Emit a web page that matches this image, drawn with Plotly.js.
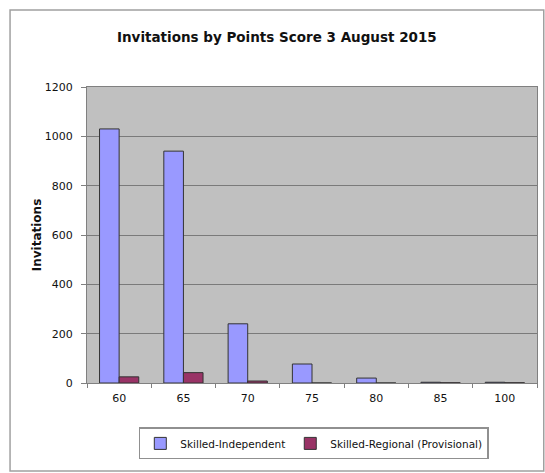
<!DOCTYPE html>
<html><head><meta charset="utf-8">
<script src="https://cdn.plot.ly/plotly-3.0.1.min.js"></script>
<style>html,body{margin:0;padding:0;background:#fff}#chart{width:545px;height:473px}</style>
</head><body><div id="chart"></div>
<script>
const categories = ['60','65','70','75','80','85','100'];
const skilledIndependent = [1030, 940, 240, 77, 20, 3, 3];
const skilledRegional = [25, 42, 8, 0, 0, 1, 1];

const traces = [
  {type:'bar', name:'Skilled-Independent', x:categories, y:skilledIndependent,
   marker:{color:'#9999ff', line:{color:'#333333', width:1}}},
  {type:'bar', name:'Skilled-Regional (Provisional)', x:categories, y:skilledRegional,
   marker:{color:'#993366', line:{color:'#333333', width:1}}}
];
const layout = {
  width:545, height:473,
  margin:{l:87, r:8, t:87, b:90},
  paper_bgcolor:'#ffffff', plot_bgcolor:'#c0c0c0',
  font:{family:'DejaVu Sans, sans-serif', size:11, color:'#111'},
  title:{text:'<b>Invitations by Points Score 3 August 2015</b>', font:{size:13.5}, x:0.508, xanchor:'center', y:0.922, yanchor:'middle'},
  barmode:'group', bargap:0.39, bargroupgap:0,
  xaxis:{type:'category', ticks:'outside', tickson:'boundaries', ticklen:4, tickcolor:'#808080',
         ticklabelstandoff:5,
         showline:true, mirror:true, linecolor:'#808080', showgrid:false, tickfont:{size:11}},
  yaxis:{range:[0,1200], dtick:200, ticks:'outside', ticklen:5, tickcolor:'#808080',
         ticklabelstandoff:6,
         showline:true, mirror:true, linecolor:'#808080', gridcolor:'#7a7a7a', gridwidth:1, zeroline:false,
         title:{text:'<b>Invitations</b>', font:{size:12}, standoff:0}},
  showlegend:true,
  legend:{orientation:'h', x:0.504, xanchor:'center', y:-0.15, yanchor:'top',
          bordercolor:'#909090', borderwidth:1.5, bgcolor:'#fff', font:{size:10.5}},
  shapes:[{type:'rect', xref:'paper', yref:'paper', x0:-0.171, x1:1.015, y0:-0.297, y1:1.26,
           line:{color:'#a0a0a0', width:1.5}, fillcolor:'rgba(0,0,0,0)', layer:'below'}]
};
Plotly.newPlot('chart', traces, layout, {displayModeBar:false, staticPlot:true});
</script></body></html>
